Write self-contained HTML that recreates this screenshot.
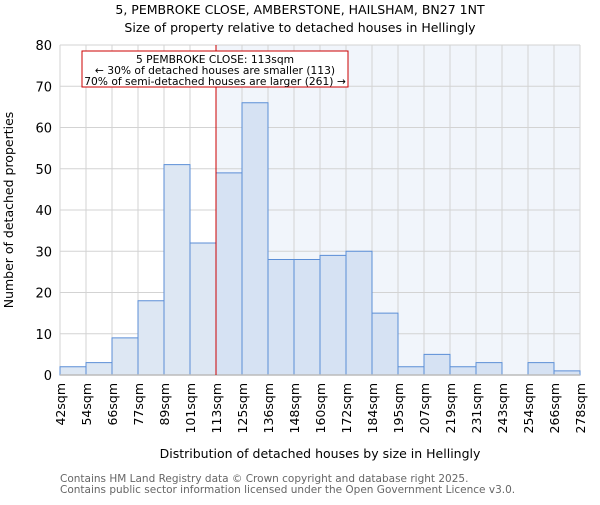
<!DOCTYPE html>
<html><head><meta charset="utf-8"><style>body{margin:0;background:#fff}svg{font-family:"DejaVu Sans","Liberation Sans",sans-serif}</style></head>
<body>
<svg id="c" width="600" height="500" viewBox="0 0 600 500">
<rect x="216" y="45" width="364" height="330" fill="#f1f5fb"/>
<g id="grid"></g><g id="bars"></g><g id="ticks"></g>
<text x="300" y="14" text-anchor="middle" font-size="12.5">5, PEMBROKE CLOSE, AMBERSTONE, HAILSHAM, BN27 1NT</text>
<text x="300" y="32" text-anchor="middle" font-size="12.5">Size of property relative to detached houses in Hellingly</text>
<text x="320" y="458" text-anchor="middle" font-size="12.5">Distribution of detached houses by size in Hellingly</text>
<text transform="translate(13,210) rotate(-90)" text-anchor="middle" font-size="12.5">Number of detached properties</text>
<line x1="216" y1="45" x2="216" y2="375" stroke="#cc0000" stroke-width="1"/>
<rect x="82" y="51" width="266" height="36" fill="#fff" stroke="#cc0000"/>
<text x="215" y="63" text-anchor="middle" font-size="10.7">5 PEMBROKE CLOSE: 113sqm</text>
<text x="215" y="74" text-anchor="middle" font-size="10.7">← 30% of detached houses are smaller (113)</text>
<text x="215" y="85" text-anchor="middle" font-size="10.7">70% of semi-detached houses are larger (261) →</text>
<text x="60" y="482" font-size="10.5" fill="#666">Contains HM Land Registry data © Crown copyright and database right 2025.</text>
<text x="60" y="493" font-size="10.5" fill="#666">Contains public sector information licensed under the Open Government Licence v3.0.</text>
</svg>
<script>
const categories=["42sqm","54sqm","66sqm","77sqm","89sqm","101sqm","113sqm","125sqm","136sqm","148sqm","160sqm","172sqm","184sqm","195sqm","207sqm","219sqm","231sqm","243sqm","254sqm","266sqm","278sqm"];
const values=[2,3,9,18,51,32,49,66,28,28,29,30,15,2,5,2,3,0,3,1];
const yTicks=[0,10,20,30,40,50,60,70,80];
const X0=60,X1=580,Y0=375,Y1=45,YMAX=80,markerIndex=6;
const bw=(X1-X0)/values.length;
const xs=i=>X0+i*bw, ys=v=>Y0-(v/YMAX)*(Y0-Y1);
const NS="http://www.w3.org/2000/svg";
function mk(t,a,p){const e=document.createElementNS(NS,t);for(const k in a)e.setAttribute(k,a[k]);p.appendChild(e);return e;}
const g=document.getElementById('grid'),b=document.getElementById('bars'),tk=document.getElementById('ticks');
yTicks.forEach(v=>{const l=mk('line',{x1:X0,x2:X1,y1:ys(v),y2:ys(v),stroke:'#d3d3d3'},g);


const t=mk('text',{x:X0-8,y:ys(v)+5,'text-anchor':'end','font-size':13},tk);t.textContent=v;

});
categories.forEach((c,i)=>{const l=mk('line',{x1:xs(i),x2:xs(i),y1:Y1,y2:Y0,stroke:'#d3d3d3'},g);


const t=mk('text',{transform:`translate(${xs(i)+5},383) rotate(-90)`,'text-anchor':'end','font-size':12.5},tk);t.textContent=c;

});
values.forEach((v,i)=>{if(v<=0)return;const r=mk('rect',{x:xs(i),y:ys(v),width:bw,height:Y0-ys(v),fill:i<markerIndex?'#dde7f3':'#d6e2f3',stroke:'#5b8ed6','stroke-width':1},b);

});
const ax=mk('line',{x1:X0,x2:X1,y1:Y0,y2:Y0,stroke:'#bbbbbb','stroke-width':1.5},b);


</script>
</body></html>
